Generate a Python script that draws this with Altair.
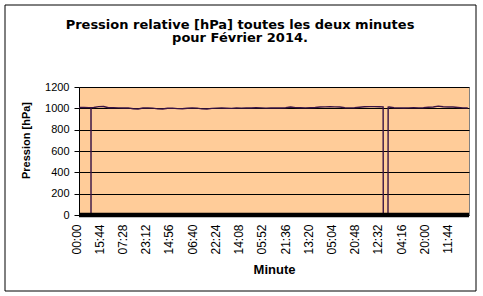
import altair as alt
import pandas as pd

# --- data ---
titre = ["Pression relative [hPa] toutes les deux minutes", "pour Février 2014."]
etiquettes_x = ["00:00", "15:44", "07:28", "23:12", "14:56", "06:40", "22:24", "14:08",
                "05:52", "21:36", "13:20", "05:04", "20:48", "12:32", "04:16", "20:00", "11:44"]
valeurs_y = [0, 200, 400, 600, 800, 1000, 1200]
pas_etiquette = 472          # samples between two labels
n_mesures = 7925             # number of two-minute samples on the axis

indice = [0, 100, 200, 243, 244, 245, 300, 400, 500, 600, 700, 800, 900, 1000,
          1100, 1200, 1300, 1400, 1500, 1600, 1700, 1800, 1900, 2000, 2100, 2200,
          2300, 2400, 2500, 2600, 2700, 2800, 2900, 3000, 3100, 3200, 3300, 3400,
          3500, 3600, 3700, 3800, 3900, 4000, 4100, 4200, 4300, 4400, 4500, 4600,
          4700, 4800, 4900, 5000, 5100, 5200, 5300, 5400, 5500, 5600, 5700, 5800,
          5900, 6000, 6100, 6180, 6183, 6279, 6282, 6300, 6400, 6500, 6600, 6700,
          6800, 6900, 7000, 7100, 7200, 7300, 7400, 7500, 7600, 7700, 7800, 7900]
pression = [1008, 1008, 1007, 1007, 0, 1007, 1008, 1016, 1017, 1006, 1005, 1004, 1003, 1004,
            996, 994, 1003, 1004, 1002, 995, 994, 1001, 1002, 997, 996, 1001,
            1003, 1002, 995, 994, 1000, 1002, 1003, 1001, 1000, 1003, 1002, 1004,
            1003, 1005, 1004, 1002, 1003, 1004, 1003, 1006, 1012, 1007, 1005, 1004,
            1006, 1008, 1012, 1014, 1015, 1014, 1012, 1006, 1004, 1005, 1010, 1015,
            1016, 1016, 1015, 1014, 0, 0, 1012, 1013, 1006, 1004, 1003, 1004,
            1005, 1004, 1006, 1010, 1013, 1021, 1015, 1012, 1012, 1008, 1004, 1003]

df = pd.DataFrame({"indice": indice, "pression": pression})
valeurs_x = [i * pas_etiquette for i in range(len(etiquettes_x))]
label_expr = "[" + ",".join("'%s'" % e for e in etiquettes_x) + "][round(datum.value / %d)]" % pas_etiquette

x_enc = alt.X(
    "indice:Q",
    scale=alt.Scale(domain=[0, n_mesures], nice=False, zero=False),
    axis=alt.Axis(
        values=valeurs_x, labelExpr=label_expr, labelAngle=270, labelAlign="right",
        labelBaseline="middle", labelPadding=9, labelOffset=-3, ticks=False, domain=False,
        grid=False, labelOverlap=False, labelFont="Liberation Sans", labelFontSize=12,
        labelColor="black",
        title="Minute", titleFont="Liberation Sans", titleFontSize=13, titleFontWeight="bold",
        titleColor="black", titleY=58, titleBaseline="alphabetic",
    ),
)
y_enc = alt.Y(
    "pression:Q",
    scale=alt.Scale(domain=[0, 1200], nice=False),
    axis=alt.Axis(
        values=valeurs_y, format="d", labelOverlap=False, gridColor="black", gridWidth=1,
        domainColor="black", tickColor="black", tickSize=5, labelPadding=5,
        labelFont="Liberation Sans", labelFontSize=11, labelColor="black",
        title="Pression [hPa]", titleFont="Liberation Sans", titleFontSize=11,
        titleFontWeight="bold", titleColor="black", titleAngle=270, titleX=-53, titleY=53,
        titleAlign="center", titleBaseline="middle",
    ),
)

ligne = alt.Chart(df).mark_line(color="#3a1444", strokeWidth=1.4, clip=True).encode(x=x_enc, y=y_enc)

zero_df = pd.DataFrame({"pression": [0]})
bande = alt.Chart(zero_df).mark_rule(color="black", strokeWidth=4.5).encode(y=y_enc)

titre1 = alt.Chart(zero_df).mark_text(
    text=titre[0], font="DejaVu Sans", fontSize=13, fontWeight="bold", color="black",
    align="center", baseline="alphabetic"
).encode(x=alt.value(161), y=alt.value(-58.5))
titre2 = alt.Chart(zero_df).mark_text(
    text=titre[1], font="DejaVu Sans", fontSize=13, fontWeight="bold", color="black",
    align="center", baseline="alphabetic"
).encode(x=alt.value(161), y=alt.value(-45))

cadre = alt.Chart(zero_df).mark_rect(fillOpacity=0, stroke="black", strokeWidth=1).encode(
    x=alt.value(-74), x2=alt.value(397), y=alt.value(-82), y2=alt.value(204)
)

chart = alt.layer(ligne, bande, titre1, titre2, cadre).properties(
    width=390, height=128,
    padding={"left": 79, "top": 87, "right": 14, "bottom": 81},
    autosize=alt.AutoSizeParams(type="none"),
    background="white",
).configure_view(fill="#FFCC99", stroke="#808080", strokeWidth=1)

chart.save("out.html", embed_options={"renderer": "svg", "actions": False})
